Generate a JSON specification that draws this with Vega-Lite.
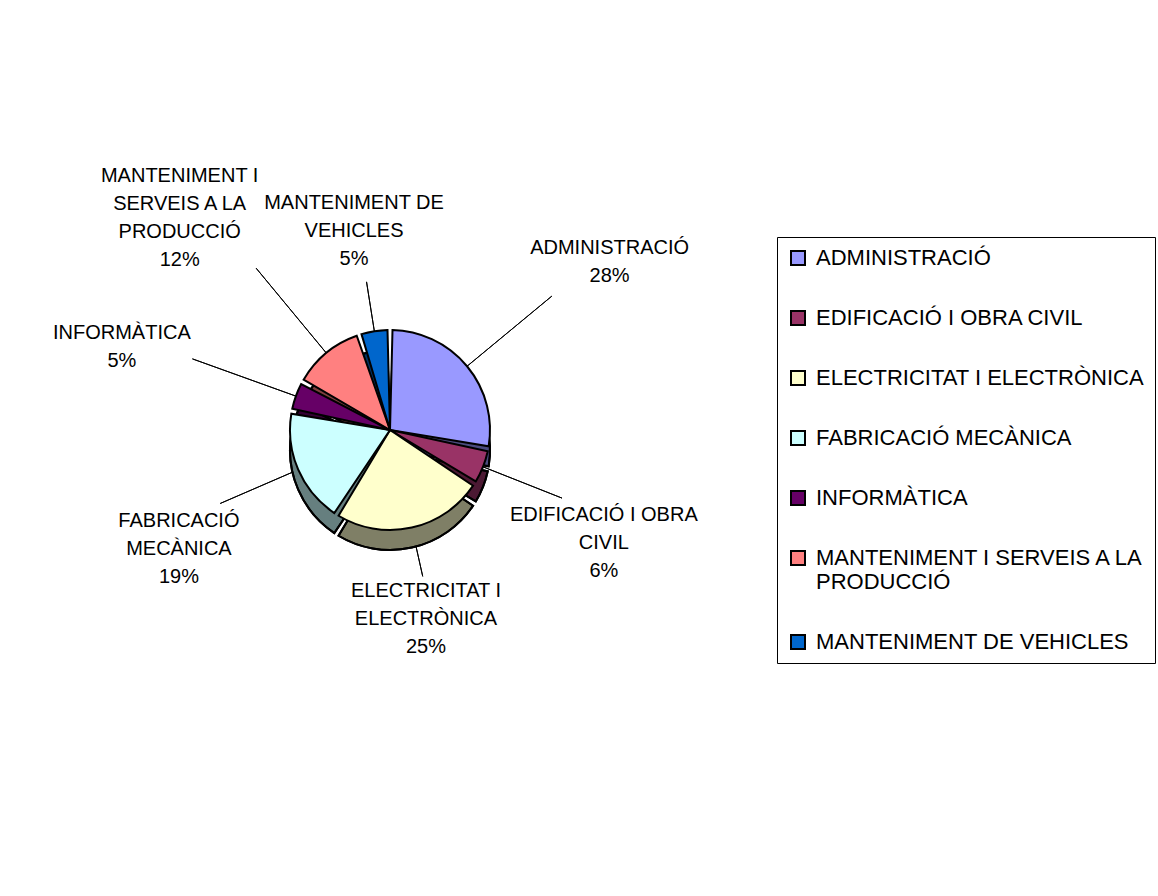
{
  "$schema": "https://vega.github.io/schema/vega-lite/v6.json",
  "width": 764,
  "height": 844,
  "autosize": "pad",
  "padding": {"left": 8, "top": 8, "right": 0, "bottom": 0},
  "background": "white",
  "config": {"view": {"stroke": null}, "font": "Liberation Sans"},
  "data": {
    "values": [
      {"order": 1, "name": "ADMINISTRACIÓ", "label": "ADMINISTRACIÓ", "pct": 28},
      {"order": 2, "name": "EDIFICACIÓ I OBRA CIVIL", "label": "EDIFICACIÓ I OBRA\nCIVIL", "pct": 6},
      {"order": 3, "name": "ELECTRICITAT I ELECTRÒNICA", "label": "ELECTRICITAT I\nELECTRÒNICA", "pct": 25},
      {"order": 4, "name": "FABRICACIÓ MECÀNICA", "label": "FABRICACIÓ\nMECÀNICA", "pct": 19},
      {"order": 5, "name": "INFORMÀTICA", "label": "INFORMÀTICA", "pct": 5},
      {"order": 6, "name": "MANTENIMENT I SERVEIS A LA PRODUCCIÓ", "label": "MANTENIMENT I\nSERVEIS A LA\nPRODUCCIÓ", "pct": 12},
      {"order": 7, "name": "MANTENIMENT DE VEHICLES", "label": "MANTENIMENT DE\nVEHICLES", "pct": 5}
    ]
  },
  "transform": [
    {"calculate": "datum.label + '\\n' + datum.pct + '%'", "as": "txt"},
    {"stack": "pct", "sort": [{"field": "order", "order": "ascending"}], "groupby": [], "as": ["p0", "p1"]},
    {"calculate": "(datum.p0 + datum.p1) / 2", "as": "mid"}
  ],
  "layer": [
    {
      "transform": [{"filter": "datum.order == 3 || datum.order == 7"}],
      "mark": {"type": "arc", "radius": 150, "radius2": 95, "stroke": "black", "strokeWidth": 1, "fill": null},
      "encoding": {
        "theta": {"field": "mid", "type": "quantitative", "scale": {"domain": [0, 100]}, "stack": null},
        "theta2": {"field": "mid"}
      }
    },
    {
      "transform": [{"filter": "datum.order == 2 || datum.order == 4"}],
      "mark": {"type": "arc", "radius": 185, "radius2": 95, "stroke": "black", "strokeWidth": 1, "fill": null},
      "encoding": {
        "theta": {"field": "mid", "type": "quantitative", "scale": {"domain": [0, 100]}, "stack": null},
        "theta2": {"field": "mid"}
      }
    },
    {
      "transform": [{"filter": "datum.order == 1 || datum.order == 5 || datum.order == 6"}],
      "mark": {"type": "arc", "radius": 210, "radius2": 95, "stroke": "black", "strokeWidth": 1, "fill": null},
      "encoding": {
        "theta": {"field": "mid", "type": "quantitative", "scale": {"domain": [0, 100]}, "stack": null},
        "theta2": {"field": "mid"}
      }
    },
    {
      "mark": {"type": "arc", "radius": 100, "yOffset": 20, "padAngle": 0.05, "stroke": "black", "strokeWidth": 2},
      "encoding": {
        "theta": {"field": "p0", "type": "quantitative", "scale": {"domain": [0, 100]}, "stack": null},
        "theta2": {"field": "p1"},
        "color": {
          "field": "name",
          "type": "nominal",
          "scale": {
            "domain": ["ADMINISTRACIÓ", "EDIFICACIÓ I OBRA CIVIL", "ELECTRICITAT I ELECTRÒNICA", "FABRICACIÓ MECÀNICA", "INFORMÀTICA", "MANTENIMENT I SERVEIS A LA PRODUCCIÓ", "MANTENIMENT DE VEHICLES"],
            "range": ["#9999FF", "#993366", "#FFFFCC", "#CCFFFF", "#660066", "#FF8080", "#0066CC"]
          },
          "legend": {
            "title": null,
            "orient": "none",
            "legendX": 769,
            "legendY": 229,
            "symbolType": "square",
            "symbolSize": 196,
            "symbolStrokeColor": "black",
            "symbolStrokeWidth": 2,
            "labelFontSize": 22,
            "labelFont": "Liberation Sans",
            "labelColor": "black",
            "labelOffset": 7,
            "labelLimit": 400,
            "rowPadding": 38,
            "padding": 10,
            "strokeColor": "black",
            "labelExpr": "datum.label == 'MANTENIMENT I SERVEIS A LA PRODUCCIÓ' ? ['MANTENIMENT I SERVEIS A LA', 'PRODUCCIÓ'] : datum.label"
          }
        }
      }
    },
    {
      "mark": {"type": "arc", "radius": 100, "yOffset": 20, "padAngle": 0.05, "fill": "black", "fillOpacity": 0.5, "stroke": "black", "strokeWidth": 2},
      "encoding": {
        "theta": {"field": "p0", "type": "quantitative", "scale": {"domain": [0, 100]}, "stack": null},
        "theta2": {"field": "p1"}
      }
    },
    {
      "mark": {"type": "arc", "radius": 100, "padAngle": 0.05, "stroke": "black", "strokeWidth": 2},
      "encoding": {
        "theta": {"field": "p0", "type": "quantitative", "scale": {"domain": [0, 100]}, "stack": null},
        "theta2": {"field": "p1"},
        "color": {"field": "name", "type": "nominal"}
      }
    },
    {
      "transform": [{"filter": "datum.order == 2 || datum.order == 4 || datum.order == 7"}],
      "mark": {"type": "text", "radius": 230, "fontSize": 20, "lineHeight": 28, "lineBreak": "\n", "align": "center", "baseline": "middle", "color": "black"},
      "encoding": {
        "theta": {"field": "mid", "type": "quantitative", "scale": {"domain": [0, 100]}, "stack": null},
        "text": {"field": "txt", "type": "nominal"}
      }
    },
    {
      "transform": [{"filter": "datum.order == 1 || datum.order == 5"}],
      "mark": {"type": "text", "radius": 285, "fontSize": 20, "lineHeight": 28, "lineBreak": "\n", "align": "center", "baseline": "middle", "color": "black"},
      "encoding": {
        "theta": {"field": "mid", "type": "quantitative", "scale": {"domain": [0, 100]}, "stack": null},
        "text": {"field": "txt", "type": "nominal"}
      }
    },
    {
      "transform": [{"filter": "datum.order == 3"}],
      "mark": {"type": "text", "radius": 165, "fontSize": 20, "lineHeight": 28, "lineBreak": "\n", "align": "center", "baseline": "middle", "color": "black"},
      "encoding": {
        "theta": {"field": "mid", "type": "quantitative", "scale": {"domain": [0, 100]}, "stack": null},
        "text": {"field": "txt", "type": "nominal"}
      }
    },
    {
      "transform": [{"filter": "datum.order == 6"}],
      "mark": {"type": "text", "radius": 330, "fontSize": 20, "lineHeight": 28, "lineBreak": "\n", "align": "center", "baseline": "middle", "color": "black"},
      "encoding": {
        "theta": {"field": "mid", "type": "quantitative", "scale": {"domain": [0, 100]}, "stack": null},
        "text": {"field": "txt", "type": "nominal"}
      }
    }
  ]
}
